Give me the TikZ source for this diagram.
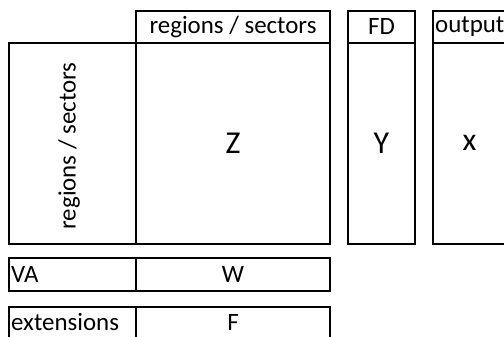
\documentclass[tikz,border=0pt]{standalone}
\usepackage{fontspec}
\setmainfont{Carlito}
\tikzset{
  cell/.style={draw=black, line width=2bp},
  head/.style={font=\fontsize{25}{30}\selectfont, inner sep=0pt},
  big/.style={font=\fontsize{32}{36}\selectfont, inner sep=0pt}
}
\begin{document}
\begin{tikzpicture}[x=1bp, y=-1bp]
\clip (0,0) rectangle (504,336);

% rows / columns of the table
\draw [cell] (9,43) rectangle (136,244);
\draw [cell] (136,11) rectangle (330,43);
\draw [cell] (136,43) rectangle (330,244);

\draw [cell] (348,11) rectangle (415,43);
\draw [cell] (348,43) rectangle (415,244);

\draw [cell] (433,11) rectangle (506,43);
\draw [cell] (433,43) rectangle (506,244);

  % value added and extensions
\draw [cell] (9,258) rectangle (136,291);
\draw [cell] (136,258) rectangle (330,291);
\draw [cell] (9,307) rectangle (136,341);
\draw [cell] (136,307) rectangle (330,341);

% labels
\node [head] (colhead) at (233,27) {regions / sectors};
\node [head, rotate=90] (rowhead) at (69,146) {regions / sectors};
\node [head] (fdhead) at (381.5,27) {FD};
\node [head, anchor=west] (outhead) at (435,27) {output};

\node [big] (zmat) at (233,143) {Z};
\node [big] (yvec) at (381.5,143) {Y};
\node [big] (xvec) at (469.5,143) {x};

\node [head, anchor=west] (valab) at (11,274.5) {VA};
\node [head] (wmat) at (233,274.5) {W};
\node [head, anchor=base west] (extlab) at (11,330) {extensions};
\node [head, anchor=base] (fmat) at (233,330) {F};

\end{tikzpicture}
\end{document}
